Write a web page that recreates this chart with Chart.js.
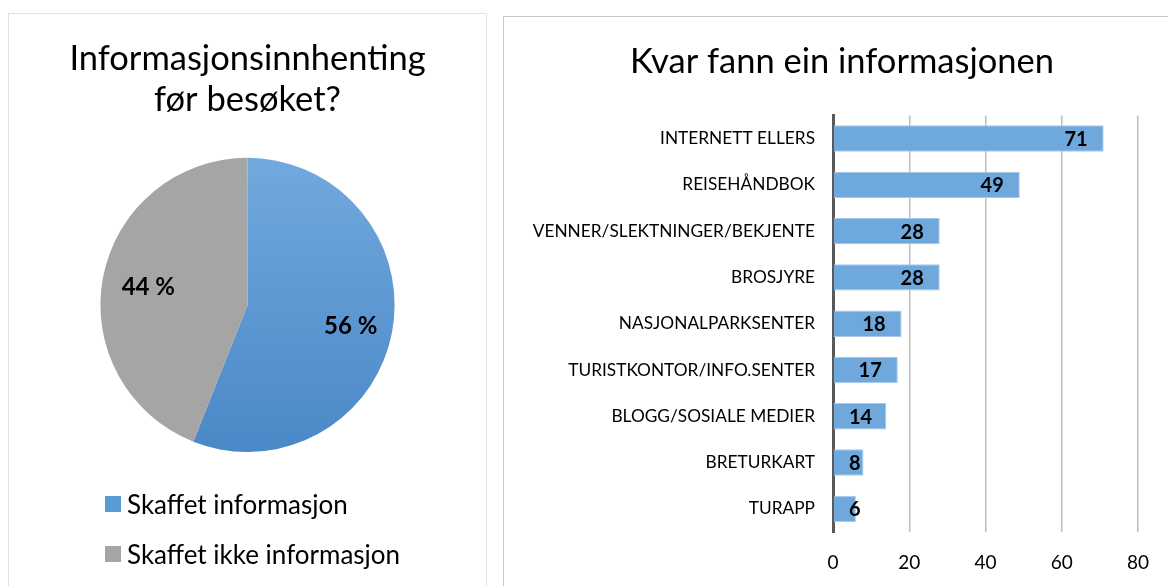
<!DOCTYPE html>
<html>
<head>
<meta charset="utf-8">
<script src="https://cdn.jsdelivr.net/npm/chart.js@4"></script>
<style>
  body { margin: 0; background: #fff; width: 1168px; height: 586px; overflow: hidden; position: relative; font-family: Lato, "Open Sans", sans-serif; }
  #pieBox { position: absolute; left: 8px; top: 13px; width: 479px; height: 590px; border: 1px solid #dde3ea; box-sizing: border-box; }
  #barBox { position: absolute; left: 503px; top: 16px; width: 678px; height: 590px; border: 1px solid #c9c9c9; box-sizing: border-box; }
  #pieCanvas { position: absolute; left: 0; top: 0; }
  #barCanvas { position: absolute; left: 0; top: 0; }
  #pieLegend { position: absolute; left: 96px; top: 465px; }
  .item { display: flex; align-items: center; height: 50px; font-size: 26px; color: #000; }
  .swatch { width: 16px; height: 16px; margin-right: 6px; }
</style>
</head>
<body>
<div id="pieBox">
  <canvas id="pieCanvas" width="477" height="573"></canvas>
  <div id="pieLegend"></div>
</div>
<div id="barBox">
  <canvas id="barCanvas" width="676" height="568"></canvas>
</div>
<script>
"use strict";

const pieLabels = ["Skaffet informasjon", "Skaffet ikke informasjon"];
const pieValues = [56, 44];
const pieColors = ["#5b9bd5", "#a5a5a5"];

const barLabels = ["INTERNETT ELLERS", "REISEHÅNDBOK", "VENNER/SLEKTNINGER/BEKJENTE", "BROSJYRE", "NASJONALPARKSENTER", "TURISTKONTOR/INFO.SENTER", "BLOGG/SOSIALE MEDIER", "BRETURKART", "TURAPP"];
const barValues = [71, 49, 28, 28, 18, 17, 14, 8, 6];
const xTicks = [0, 20, 40, 60, 80];

const fontFamily = "Lato, 'Open Sans', sans-serif";

// percentage labels inside the pie slices
const pieLabelPlugin = {
  id: "pieLabels",
  afterDatasetsDraw(chart) {
    const ctx = chart.ctx;
    const meta = chart.getDatasetMeta(0);
    const total = pieValues.reduce((a, b) => a + b, 0);
    ctx.save();
    ctx.font = "bold 24px " + fontFamily;
    ctx.fillStyle = "#000";
    ctx.textAlign = "center";
    ctx.textBaseline = "middle";
    meta.data.forEach((arc, i) => {
      const p = arc.getProps(["x", "y", "startAngle", "endAngle", "outerRadius"], true);
      const mid = (p.startAngle + p.endAngle) / 2;
      const r = p.outerRadius * 0.7;
      const text = Math.round(pieValues[i] / total * 100) + " %";
      ctx.fillText(text, p.x + Math.cos(mid) * r + 2, p.y + Math.sin(mid) * r + 2);
    });
    ctx.restore();
  }
};

// value labels at the inside end of each bar
const barLabelPlugin = {
  id: "barLabels",
  afterDatasetsDraw(chart) {
    const ctx = chart.ctx;
    const meta = chart.getDatasetMeta(0);
    const base = chart.scales.x.getPixelForValue(0);
    ctx.save();
    ctx.font = "bold 20px " + fontFamily;
    ctx.fillStyle = "#000";
    ctx.textAlign = "right";
    ctx.textBaseline = "middle";
    meta.data.forEach((bar, i) => {
      const text = String(barValues[i]);
      const w = ctx.measureText(text).width;
      const right = Math.max(bar.x - 16, base + 16 + w);
      ctx.fillText(text, right, bar.y + 1);
    });
    ctx.restore();
  }
};

const pieCanvas = document.getElementById("pieCanvas");
const pieChart = new Chart(pieCanvas, {
  type: "pie",
  data: {
    labels: pieLabels,
    datasets: [{
      data: pieValues,
      backgroundColor: function (c) {
        const area = c.chart.chartArea;
        if (!area) return pieColors[c.dataIndex];
        if (c.dataIndex === 0) {
          const g = c.chart.ctx.createLinearGradient(0, area.top, 0, area.bottom);
          g.addColorStop(0, "#72a9de");
          g.addColorStop(1, "#4a88c7");
          return g;
        }
        return pieColors[1];
      },
      borderWidth: 0
    }]
  },
  options: {
    responsive: false,
    animation: false,
    layout: { padding: { top: 0, bottom: 135, left: 0, right: 0 } },
    plugins: {
      legend: { display: false },
      tooltip: { enabled: false },
      title: {
        display: true,
        text: ["Informasjonsinnhenting", "før besøket?"],
        color: "#000",
        font: { family: fontFamily, size: 34.5, weight: "normal", lineHeight: 1.2 },
        padding: { top: 24, bottom: 37 }
      }
    }
  },
  plugins: [pieLabelPlugin]
});

const legendBox = document.getElementById("pieLegend");
for (let i = 0; i < pieLabels.length; i++) {
  const item = document.createElement("div");
  item.className = "item";
  const sw = document.createElement("span");
  sw.className = "swatch";
  sw.style.background = pieColors[i];
  const label = document.createElement("span");
  label.textContent = pieLabels[i];
  item.appendChild(sw);
  item.appendChild(label);
  legendBox.appendChild(item);
}

const barCanvas = document.getElementById("barCanvas");
const barChart = new Chart(barCanvas, {
  type: "bar",
  data: {
    labels: barLabels,
    datasets: [{
      data: barValues,
      backgroundColor: "#6fa8dc",
      borderColor: "#a9c9ea",
      borderWidth: 1,
      barPercentage: 0.57,
      categoryPercentage: 1
    }]
  },
  options: {
    indexAxis: "y",
    responsive: false,
    animation: false,
    // equal side padding keeps the title centred on the panel
    layout: { padding: { top: 0, bottom: 0, left: 42, right: 42 } },
    scales: {
      x: {
        min: 0,
        max: 80,
        afterBuildTicks: function (axis) {
          axis.ticks = xTicks.map(v => ({ value: v }));
        },
        grid: { color: "#bdbdbd", lineWidth: 1.5, drawTicks: false },
        border: { display: false },
        ticks: { color: "#000", padding: 19, font: { family: fontFamily, size: 19 } },
        afterFit: function (axis) { axis.height = 53; }
      },
      y: {
        grid: { display: false, drawTicks: false },
        border: { display: true, color: "#595959", width: 3 },
        ticks: { color: "#000", padding: 18, font: { family: fontFamily, size: 17.3 } },
        afterFit: function (axis) {
          axis.width = 287;
          // long labels reach into the left padding, so don't clip them
          axis._computeLabelArea = function () { return undefined; };
        }
      }
    },
    plugins: {
      legend: { display: false },
      tooltip: { enabled: false },
      title: {
        display: true,
        text: "Kvar fann ein informasjonen",
        color: "#000",
        font: { family: fontFamily, size: 34.5, weight: "normal", lineHeight: 1.2 },
        padding: { top: 24, bottom: 33 }
      }
    }
  },
  plugins: [barLabelPlugin]
});
</script>
</body>
</html>
